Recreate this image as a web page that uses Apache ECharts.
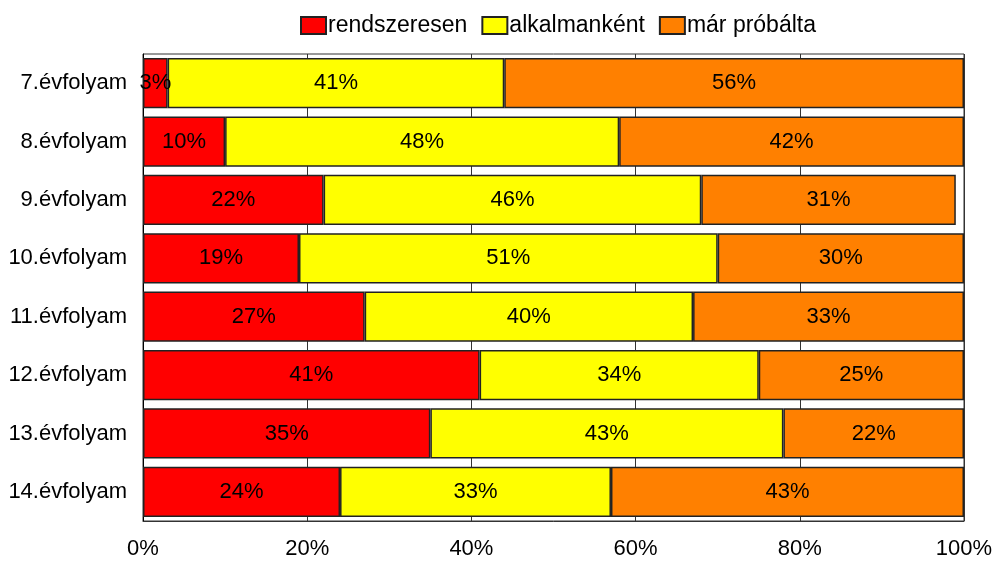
<!DOCTYPE html>
<html>
<head>
<meta charset="utf-8">
<script src="https://cdn.jsdelivr.net/npm/echarts@6/dist/echarts.min.js"></script>
<style>html,body{margin:0;padding:0;background:#fff;}#c{width:994px;height:563px;}</style>
</head>
<body>
<div id="c"></div>
<script>
var categories = ['7.évfolyam','8.évfolyam','9.évfolyam','10.évfolyam','11.évfolyam','12.évfolyam','13.évfolyam','14.évfolyam'];
var seriesNames = ['rendszeresen','alkalmanként','már próbálta'];
var rendszeresen = [3,10,22,19,27,41,35,24];
var alkalmankent = [41,48,46,51,40,34,43,33];
var marProbalta = [56,42,31,30,33,25,22,43];
var colors = ['#FF0000','#FFFF00','#FF8000'];
var values = [rendszeresen, alkalmankent, marProbalta];
var FONT = '"Liberation Sans", Arial, sans-serif';

var chart = echarts.init(document.getElementById('c'));
chart.setOption({
  animation: false,
  textStyle: {fontFamily: FONT},
  legend: {
    top: 9, left: 295,
    icon: 'rect',
    itemWidth: 25, itemHeight: 17, itemGap: 14,
    textStyle: {fontSize: 23, color: '#000', fontFamily: FONT, padding: [0,0,0,-3]},
    data: seriesNames
  },
  grid: {left: 143, right: 30, top: 54, bottom: 42, show: true, borderColor: '#333', borderWidth: 1, outerBoundsMode: 'none', containLabel: false},
  xAxis: {
    type: 'value', min: 0, max: 100, interval: 20,
    axisLabel: {formatter: '{value}%', fontSize: 22, color: '#000', margin: 17, fontFamily: FONT},
    axisLine: {show: true, lineStyle: {color: '#333'}},
    axisTick: {show: false},
    splitLine: {show: true, lineStyle: {color: '#333', width: 1}}
  },
  yAxis: {
    type: 'category', data: categories, inverse: true,
    axisLabel: {fontSize: 22, color: '#000', margin: 16, fontFamily: FONT},
    axisLine: {show: true, lineStyle: {color: '#000'}},
    axisTick: {show: false}
  },
  series: seriesNames.map(function(n, i){
    return {
      name: n, type: 'bar', stack: 'total', barCategoryGap: '14%',
      data: values[i],
      itemStyle: {color: colors[i], borderColor: '#222', borderWidth: 1.5},
      label: {show: true, position: 'inside', formatter: '{c}%', fontSize: 22, color: '#000', fontFamily: FONT}
    };
  })
});
</script>
</body>
</html>
